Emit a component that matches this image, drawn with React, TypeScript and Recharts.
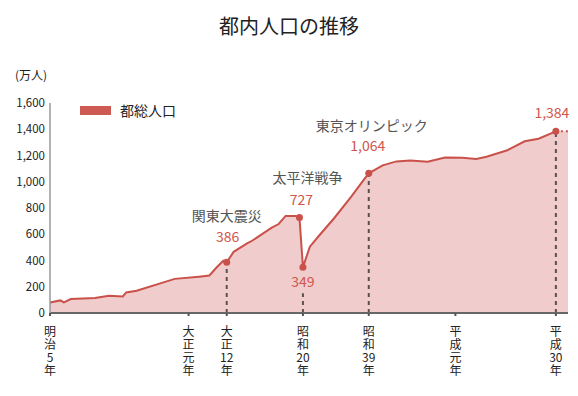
import { ComposedChart, Area, XAxis, YAxis, ReferenceLine, ReferenceDot } from 'recharts';

const years = [1872, 1875, 1876, 1878, 1885, 1889, 1893, 1894, 1897, 1908, 1915, 1918, 1920, 1922, 1923, 1925, 1929, 1930, 1936, 1938, 1940, 1943, 1944, 1945, 1947, 1950, 1954, 1959, 1962, 1964, 1968, 1972, 1976, 1981, 1986, 1991, 1995, 1998, 2004, 2009, 2013, 2018];
const population = [80, 96, 81, 106, 114, 132, 126, 157, 170, 260, 277, 286, 345, 398, 386, 466, 532, 545, 650, 678, 740, 740, 727, 349, 505, 600, 722, 888, 995, 1064, 1125, 1155, 1162, 1152, 1185, 1182, 1173, 1190, 1240, 1308, 1328, 1384];

// 点線部分（平成30年以降）
const projYears = [2018, 2021.5];
const projValues = [1384, 1384];

const tickYears = [1872, 1912, 1923, 1945, 1964, 1989, 2018];
const tickLabels = [
    ['明', '治', '5', '年'],
    ['大', '正', '元', '年'],
    ['大', '正', '12', '年'],
    ['昭', '和', '20', '年'],
    ['昭', '和', '39', '年'],
    ['平', '成', '元', '年'],
    ['平', '成', '30', '年'],
];
const yTicks = [0, 200, 400, 600, 800, 1000, 1200, 1400, 1600];

const eventYears = [1923, 1944, 1945, 1964, 2018];
const eventValues = [386, 727, 349, 1064, 1384];
const eventNames = ['関東大震災', '太平洋戦争', '', '東京オリンピック', ''];
// 破線の上端（349 はラベルの下まで）
const dashTops = [386, 0, 150, 1064, 1384];

// ラベル位置 [名前dx, 名前dy, 値dx, 値dy]
const labelOffsets = [
    [0, -41, 1, -20],
    [8, -35, 2, -13],
    [0, 0, 0, 20],
    [3, -42, -1, -22],
    [0, 0, -4, -13],
];

const LINE = '#c9514a';
const FILL = '#f0cdcc';
const FONT = '"Noto Sans CJK JP", "Noto Sans", sans-serif';

const data: Array<{ year: number; pop?: number; proj?: number }> = years.map((y, i) => ({ year: y, pop: population[i] }));
projYears.forEach((y, i) => {
    const row = data.find((d) => d.year === y);
    if (row) row.proj = projValues[i];
    else data.push({ year: y, proj: projValues[i] });
});

// 縦書きの年ラベル
function YearTick({ x, y, payload }: any) {
    const idx = tickYears.indexOf(payload.value);
    const lines = tickLabels[idx] || [];
    return (
        <text x={x} y={y + 18} textAnchor="middle" fontSize={12} fill="#222" fontFamily={FONT}>
            {lines.map((s, i) => (
                <tspan key={i} x={x} dy={i === 0 ? 0 : 13}>
                    {s}
                </tspan>
            ))}
        </text>
    );
}

function fmt(v: number) {
    return v.toLocaleString('en-US');
}

export default function App() {
    return (
        <div style={{ position: 'fixed', left: 0, top: 0, width: 578, height: 396, background: '#fff', fontFamily: FONT }}>
            <div style={{ position: 'absolute', top: 14, left: 0, width: 578, textAlign: 'center', fontSize: 20, lineHeight: '24px', color: '#222' }}>
                都内人口の推移
            </div>
            <div style={{ position: 'absolute', top: 67, left: 15, fontSize: 12, lineHeight: '16px', color: '#222' }}>(万人)</div>
            <div style={{ position: 'absolute', top: 100, left: 80, display: 'flex', alignItems: 'center' }}>
                <div style={{ width: 31, height: 9, background: '#cd5a53' }} />
                <span style={{ marginLeft: 9, fontSize: 14, lineHeight: '20px', color: '#222' }}>都総人口</span>
            </div>
            <ComposedChart
                width={578}
                height={396}
                data={data}
                margin={{ top: 103, right: 10, bottom: 13, left: 0 }}
                style={{ position: 'absolute', left: 0, top: 0 }}
            >
                <XAxis
                    dataKey="year"
                    type="number"
                    domain={[1872, 2021.5]}
                    ticks={tickYears}
                    interval={0}
                    height={70}
                    axisLine={{ stroke: '#666', strokeWidth: 2 }}
                    tickLine={{ stroke: '#555', strokeWidth: 2 }}
                    tickSize={3}
                    tickMargin={2}
                    tick={<YearTick />}
                />
                <YAxis
                    domain={[0, 1600]}
                    ticks={yTicks}
                    width={50}
                    axisLine={{ stroke: '#999', strokeWidth: 1.5 }}
                    tickLine={false}
                    tickSize={0}
                    tickMargin={5}
                    tickFormatter={fmt}
                    tick={{ fontSize: 11.5, fill: '#222', fontFamily: FONT }}
                />
                <Area
                    type="linear"
                    dataKey="pop"
                    stroke={LINE}
                    strokeWidth={2}
                    fill={FILL}
                    fillOpacity={1}
                    isAnimationActive={false}
                    dot={false}
                    activeDot={false}
                />
                <Area
                    type="linear"
                    dataKey="proj"
                    stroke={LINE}
                    strokeWidth={2}
                    strokeDasharray="2 3"
                    fill={FILL}
                    fillOpacity={1}
                    isAnimationActive={false}
                    dot={false}
                    activeDot={false}
                />
                {eventYears.map((yr, i) =>
                    dashTops[i] > 0 ? (
                        <ReferenceLine
                            key={`dash-${i}`}
                            segment={[
                                { x: yr, y: 0 },
                                { x: yr, y: dashTops[i] },
                            ]}
                            stroke="#5a5252"
                            strokeWidth={2}
                            strokeDasharray="4 4"
                        />
                    ) : null
                )}
                {eventYears.map((yr, i) => (
                    <ReferenceDot
                        key={`dot-${i}`}
                        x={yr}
                        y={eventValues[i]}
                        r={3.5}
                        shape={(p: any) => {
                            const [ndx, ndy, vdx, vdy] = labelOffsets[i];
                            return (
                                <g>
                                    <circle cx={p.cx} cy={p.cy} r={3.5} fill={LINE} />
                                    {eventNames[i] && (
                                        <text x={p.cx + ndx} y={p.cy + ndy} textAnchor="middle" fontSize={14} fill="#555" fontFamily={FONT}>
                                            {eventNames[i]}
                                        </text>
                                    )}
                                    <text x={p.cx + vdx} y={p.cy + vdy} textAnchor="middle" fontSize={14} fill="#d0554c" fontFamily={FONT}>
                                        {fmt(eventValues[i])}
                                    </text>
                                </g>
                            );
                        }}
                    />
                ))}
            </ComposedChart>
        </div>
    );
}
